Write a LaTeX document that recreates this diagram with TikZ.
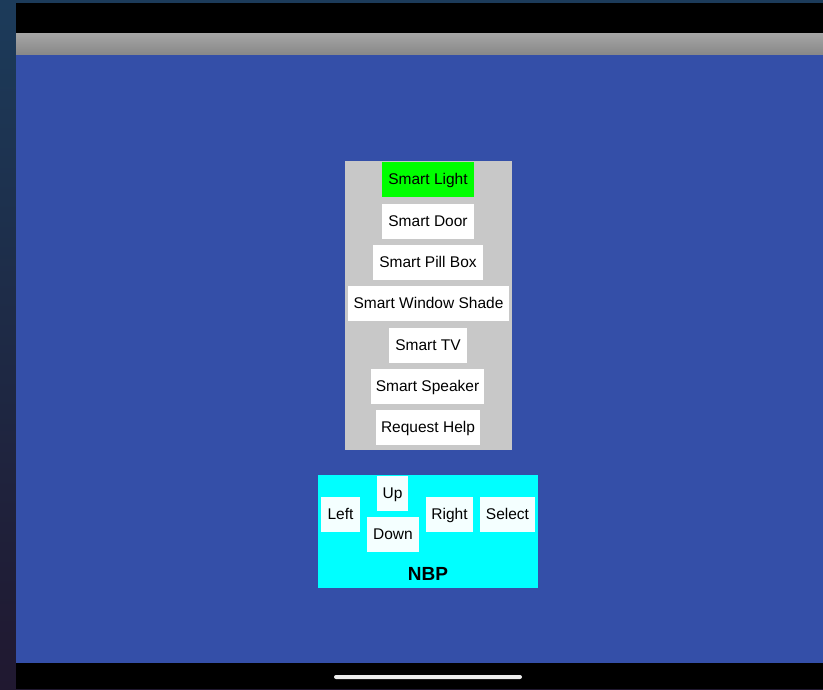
\documentclass[tikz,border=0pt]{standalone}
\usepackage{fontspec}
\setmainfont{Liberation Sans}

\definecolor{screenblue}{HTML}{344FA8}
\definecolor{menugray}{HTML}{C8C8C8}
\definecolor{lightgreen}{HTML}{00FF00}
\definecolor{nbpcyan}{HTML}{00FFFF}
\definecolor{keywhite}{HTML}{F4FFFF}
\definecolor{wallpapertop}{HTML}{1C3B5A}
\definecolor{wallpaperbot}{HTML}{201830}

\begin{document}
\begin{tikzpicture}[
       x=1pt,y=-1pt,
       button/.style={
         fill=white,
         inner sep=0pt,
         minimum height=35pt,
         text height=1.0em,
         text depth=0pt,
         font=\fontsize{15.5}{18}\selectfont
       },
       key/.style={
         button,
         fill=keywhite
       },
       panel/.style={
         inner sep=0pt
       }
     ]

       \useasboundingbox (0,0) rectangle (823,689);

       % screen and bars
       \shade[top color=wallpapertop,bottom color=wallpaperbot] (0,0) rectangle (823,689);
       \fill[black] (16,3) rectangle (823,33);
       \shade[top color=black!35,bottom color=black!47] (16,33) rectangle (823,55);
       \fill[screenblue] (16,55) rectangle (823,663);
       \fill[black] (16,663) rectangle (823,689);
       \fill[black!7,rounded corners=2pt] (334,675) rectangle (522,679);

       % device menu
       \node (menu) at (428.5,305.5) [panel,fill=menugray,minimum width=167pt,minimum height=289pt]{};
       \node (light) at (428,179.5) [button,fill=lightgreen,minimum width=92pt]{Smart Light};
       \node (door) at (428,221.5) [button,minimum width=92pt]{Smart Door};
       \node (pillbox) at (428,262) [button,minimum width=110pt]{Smart Pill Box};
       \node (shade) at (428.5,303.5) [button,minimum width=161pt]{Smart Window Shade};
       \node (tv) at (428,345) [button,minimum width=78pt]{Smart TV};
       \node (speaker) at (427.5,386.5) [button,minimum width=113pt]{Smart Speaker};
       \node (help) at (428,427.5) [button,minimum width=104pt]{Request Help};

       % navigation pad
       \node (nbp) at (428,531.5) [panel,fill=nbpcyan,minimum width=220pt,minimum height=113pt]{};
       \node (left) at (340.5,514) [key,minimum width=39pt]{Left};
       \node (up) at (392.5,493.5) [key,minimum width=31pt]{Up};
       \node (down) at (393,534.5) [key,minimum width=52pt]{Down};
       \node (right) at (449.5,514) [key,minimum width=47pt]{Right};
       \node (select) at (507.5,514) [key,minimum width=55pt]{Select};
       \node (nbplabel) at (428,574) [font=\fontsize{19}{22}\selectfont\bfseries]{NBP};

\end{tikzpicture}
\end{document}
